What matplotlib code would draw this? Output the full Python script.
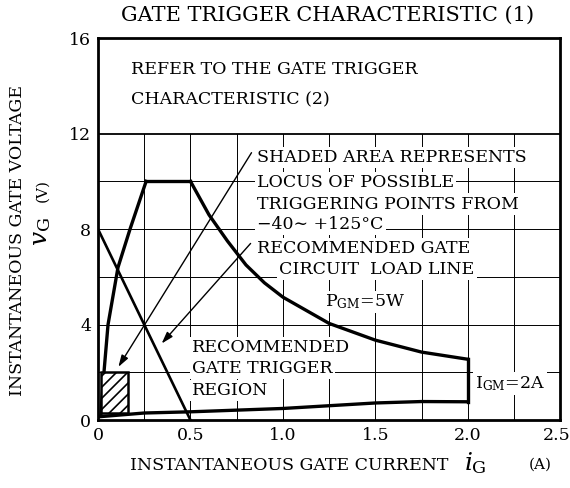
import numpy as np
import matplotlib
matplotlib.use("Agg")
import matplotlib.pyplot as plt
import matplotlib.transforms as mtransforms
from matplotlib.patches import Rectangle

plt.rcParams['font.family'] = ['DejaVu Serif']
plt.rcParams['mathtext.fontset'] = 'dejavuserif'
plt.rcParams['hatch.linewidth'] = 1.2

# ========== data ==========
# left boundary of trigger region (i_G [A], v_G [V])
left_i = [0.015, 0.022, 0.032, 0.054, 0.108, 0.173, 0.26]
left_v = [0.2, 1.0, 2.0, 4.0, 6.4, 8.0, 10.0]

# top flat (max gate voltage 10V)
top_i = [0.26, 0.5]
top_v = [10.0, 10.0]

# P_GM = 5W limit
pgm_i = [0.5, 0.6, 0.7, 0.8, 0.9, 1.0, 1.25, 1.5, 1.75, 2.0]
pgm_v = [10.0, 8.6, 7.5, 6.5, 5.75, 5.15, 4.05, 3.35, 2.85, 2.55]

# I_GM = 2A limit
igm_i = [2.0, 2.0]
igm_v = [2.55, 0.77]

# lower boundary
low_i = [0.0, 0.25, 0.5, 1.0, 1.5, 1.75, 2.0]
low_v = [0.14, 0.3, 0.35, 0.49, 0.72, 0.78, 0.77]

# recommended gate circuit load line
load_i = [0.0, 0.5]
load_v = [8.0, 0.0]

# shaded (recommended) trigger region
rect_i = (0.015, 0.16)
rect_v = (0.3, 2.0)

x_ticks = [0, 0.5, 1.0, 1.5, 2.0, 2.5]
x_labels = ["0", "0.5", "1.0", "1.5", "2.0", "2.5"]
y_ticks = [0, 4, 8, 12, 16]

# ========== figure ==========
fig = plt.figure(figsize=(5.7, 4.88), dpi=100)
ax = fig.add_axes([0.172, 0.139, 0.811, 0.783])
ax.set_xlim(0, 2.5)
ax.set_ylim(0, 16)

# grid (only below 12V)
for gx in np.arange(0.25, 2.5, 0.25):
    ax.plot([gx, gx], [0, 12], color="black", linewidth=0.7, zorder=1)
for gy in [2, 4, 6, 8, 10]:
    ax.plot([0, 2.5], [gy, gy], color="black", linewidth=0.7, zorder=1)
ax.plot([0, 2.5], [12, 12], color="black", linewidth=1.3, zorder=1)

# boundary curves
lw = 2.4
ax.plot(left_i, left_v, color="black", linewidth=lw, zorder=3)
ax.plot(top_i, top_v, color="black", linewidth=lw, zorder=3)
ax.plot(pgm_i, pgm_v, color="black", linewidth=lw, zorder=3)
ax.plot(igm_i, igm_v, color="black", linewidth=lw, zorder=3)
ax.plot(low_i, low_v, color="black", linewidth=lw, zorder=3)
ax.plot(load_i, load_v, color="black", linewidth=1.9, zorder=3)

ax.add_patch(Rectangle((rect_i[0], rect_v[0]), rect_i[1] - rect_i[0], rect_v[1] - rect_v[0],
                       facecolor="white", edgecolor="black", hatch="///", linewidth=1.8, zorder=4))

# text labels with white boxes hiding the grid
box = dict(facecolor="white", edgecolor="none", pad=1.5)
fs = 12.5
ax.text(0.18, 14.7, "REFER TO THE GATE TRIGGER", fontsize=fs, va="center", zorder=5)
ax.text(0.18, 13.4, "CHARACTERISTIC (2)", fontsize=fs, va="center", zorder=5)

ax.text(0.86, 11.0, "SHADED AREA REPRESENTS", fontsize=fs, va="center", bbox=box, zorder=5)
ax.text(0.86, 9.95, "LOCUS OF POSSIBLE", fontsize=fs, va="center", bbox=box, zorder=5)
ax.text(0.86, 9.05, "TRIGGERING POINTS FROM", fontsize=fs, va="center", bbox=box, zorder=5)
ax.text(0.86, 8.2, "−40∼ +125°C", fontsize=fs, va="center", bbox=box, zorder=5)

ax.text(0.86, 7.2, "RECOMMENDED GATE", fontsize=fs, va="center", bbox=box, zorder=5)
ax.text(0.98, 6.3, "CIRCUIT  LOAD LINE", fontsize=fs, va="center", bbox=box, zorder=5)

ax.text(1.23, 4.95, r"P$_{\rm GM}$=5W", fontsize=fs, va="center", bbox=box, zorder=5)

ax.text(0.51, 3.05, "RECOMMENDED", fontsize=fs, va="center", bbox=box, zorder=5)
ax.text(0.51, 2.15, "GATE TRIGGER", fontsize=fs, va="center", bbox=box, zorder=5)
ax.text(0.51, 1.25, "REGION", fontsize=fs, va="center", bbox=box, zorder=5)

ax.text(2.04, 1.55, r"I$_{\rm GM}$=2A", fontsize=fs, va="center", bbox=box, zorder=5)

# leader arrows
arrow = dict(arrowstyle="-|>,head_length=0.7,head_width=0.22", color="black", linewidth=1.0,
             shrinkA=0, shrinkB=0)
ax.annotate("", xy=(0.11, 2.23), xytext=(0.83, 11.2), arrowprops=arrow, zorder=6)
ax.annotate("", xy=(0.344, 3.21), xytext=(0.825, 7.4), arrowprops=arrow, zorder=6)

# axes styling
for s in ax.spines.values():
    s.set_linewidth(2.0)
ax.set_xticks(x_ticks)
ax.set_xticklabels(x_labels)
ax.set_yticks(y_ticks)
ax.tick_params(length=0, labelsize=12.5, pad=5)
# keep the last tick label inside the canvas
last = ax.get_xticklabels()[-1]
last.set_transform(last.get_transform() + mtransforms.ScaledTranslation(-4 / 100, 0, fig.dpi_scale_trans))

fig.text(328 / 570, 1 - 15 / 488, "GATE TRIGGER CHARACTERISTIC (1)", fontsize=15, ha="center", va="center")

fig.text(130 / 570, 1 - 465 / 488, "INSTANTANEOUS GATE CURRENT", fontsize=12.5, ha="left", va="center")
fig.text(475 / 570, 1 - 463 / 488, r"$i_{\rm G}$", fontsize=18, ha="center", va="center")
fig.text(540 / 570, 1 - 465 / 488, "(A)", fontsize=11, ha="center", va="center")

fig.text(18 / 570, 1 - 240 / 488, "INSTANTANEOUS GATE VOLTAGE", fontsize=12.5, rotation=90,
         ha="center", va="center")
fig.text(42 / 570, 1 - 232 / 488, r"$v_{\rm G}$", fontsize=18, rotation=90, ha="center", va="center")
fig.text(42 / 570, 1 - 190 / 488, "(V)", fontsize=11, rotation=90, ha="center", va="center")

fig.savefig("out.png", dpi=100)
